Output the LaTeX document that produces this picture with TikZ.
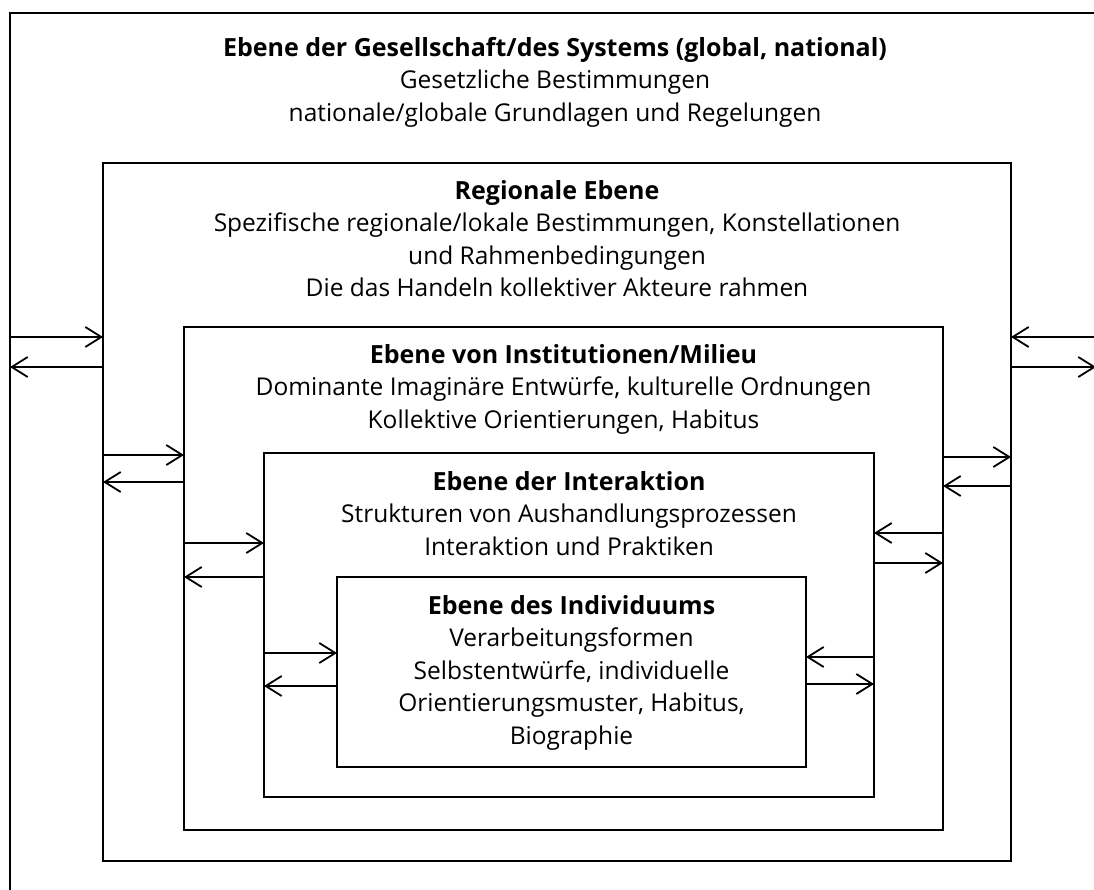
\documentclass[tikz,border=0pt]{standalone}
\usepackage{fontspec}
\setmainfont{Open Sans}
\usetikzlibrary{arrows.meta}
\newcommand{\ttl}[1]{{\fontsize{25}{32.5}\selectfont\bfseries #1}}
\begin{document}
\begin{tikzpicture}[x=1pt,y=-1pt,
  box/.style={draw=black, line width=1.5pt, inner sep=0pt, outer sep=0pt, rectangle},
  lbl/.style={align=center, inner sep=0pt, font=\fontsize{24.5}{32.5}\selectfont, anchor=north},
  arr/.style={line width=1.8pt, -{Straight Barb[length=16pt,width=20pt,line width=1.8pt]}}]
\useasboundingbox (0,0) rectangle (1094,890);
\clip (0,0) rectangle (1094,890);
\node[box, minimum width=1086pt, minimum height=892pt] (b1) at (553,459) {};
\node[box, minimum width=908pt, minimum height=698pt] (b2) at (557,512) {};
\node[box, minimum width=759pt, minimum height=503pt] (b3) at (563.5,578.5) {};
\node[box, minimum width=610pt, minimum height=344pt] (b4) at (569,625) {};
\node[box, minimum width=469pt, minimum height=190pt] (b5) at (571.5,672) {};
\node[lbl] (t1) at (555,37) {\ttl{Ebene der Gesellschaft/des Systems (global, national)}\\Gesetzliche Bestimmungen\\nationale/globale Grundlagen und Regelungen};
\node[lbl] (t2) at (557,180) {\ttl{Regionale Ebene}\\Spezifische regionale/lokale Bestimmungen, Konstellationen\\und Rahmenbedingungen\\Die das Handeln kollektiver Akteure rahmen};
\node[lbl] (t3) at (563.5,344) {\ttl{Ebene von Institutionen/Milieu}\\Dominante Imaginäre Entwürfe, kulturelle Ordnungen\\Kollektive Orientierungen, Habitus};
\node[lbl] (t4) at (569,471) {\ttl{Ebene der Interaktion}\\Strukturen von Aushandlungsprozessen\\Interaktion und Praktiken};
\node[lbl] (t5) at (571.5,595) {\ttl{Ebene des Individuums}\\Verarbeitungsformen\\Selbstentwürfe, individuelle\\Orientierungsmuster, Habitus,\\Biographie};
% y levels
\coordinate (ya) at (0,337);
\coordinate (yb) at (0,367);
\coordinate (yc) at (0,455);
\coordinate (yd) at (0,482);
\coordinate (ye) at (0,543);
\coordinate (yf) at (0,577);
\coordinate (yg) at (0,653);
\coordinate (yh) at (0,686);
\coordinate (yi) at (0,657);
\coordinate (yj) at (0,684);
\coordinate (yk) at (0,533);
\coordinate (yl) at (0,563);
\coordinate (ym) at (0,457);
\coordinate (yn) at (0,486);
% left side
\draw[arr] (b1.west |- ya) -- (b2.west |- ya);
\draw[arr] (b2.west |- yb) -- (b1.west |- yb);
\draw[arr] (b2.west |- yc) -- (b3.west |- yc);
\draw[arr] (b3.west |- yd) -- (b2.west |- yd);
\draw[arr] (b3.west |- ye) -- (b4.west |- ye);
\draw[arr] (b4.west |- yf) -- (b3.west |- yf);
\draw[arr] (b4.west |- yg) -- (b5.west |- yg);
\draw[arr] (b5.west |- yh) -- (b4.west |- yh);
% right side
\draw[arr] (b4.east |- yi) -- (b5.east |- yi);
\draw[arr] (b5.east |- yj) -- (b4.east |- yj);
\draw[arr] (b3.east |- yk) -- (b4.east |- yk);
\draw[arr] (b4.east |- yl) -- (b3.east |- yl);
\draw[arr] (b3.east |- ym) -- (b2.east |- ym);
\draw[arr] (b2.east |- yn) -- (b3.east |- yn);
\draw[arr] (b1.east |- ya) -- (b2.east |- ya);
\draw[arr] (b2.east |- yb) -- (b1.east |- yb);
\end{tikzpicture}
\end{document}
